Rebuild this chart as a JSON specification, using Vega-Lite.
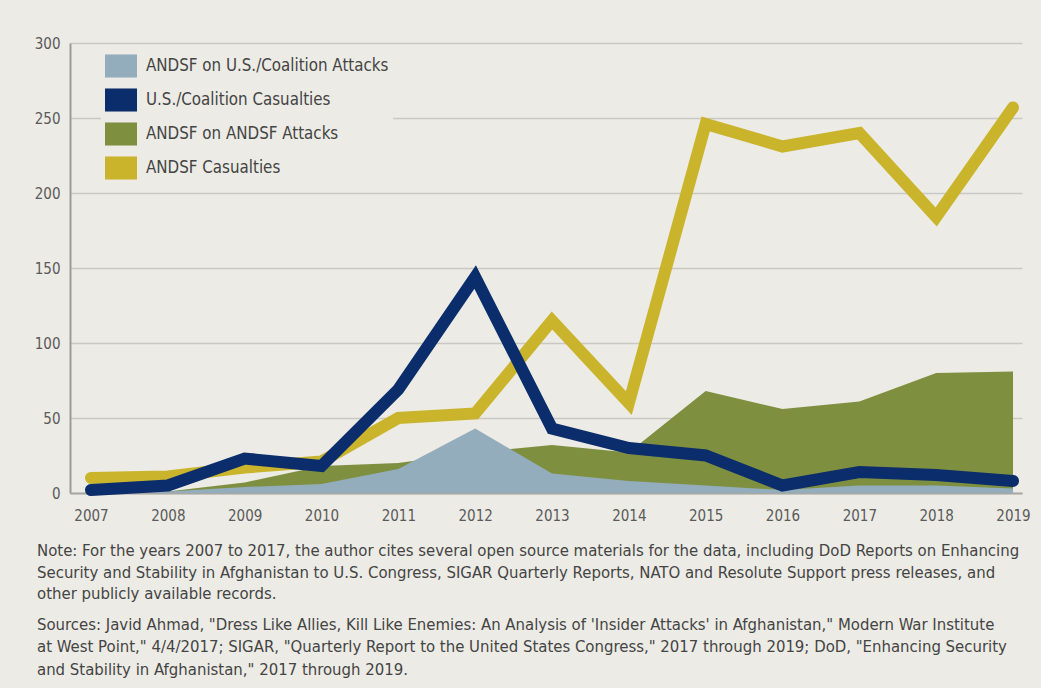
{
  "$schema": "https://vega.github.io/schema/vega-lite/v6.json",
  "autosize": "none",
  "width": 952,
  "height": 450,
  "padding": {"left": 70, "top": 43, "right": 19, "bottom": 195},
  "background": "#ecebe5",
  "config": {
    "view": {"stroke": null},
    "font": "DejaVu Sans Condensed, Open Sans, sans-serif",
    "axis": {"labelFont": "DejaVu Sans Condensed, sans-serif", "labelFontSize": 15, "labelColor": "#5a5a5a"}
  },
  "title": {
    "text": [
      "Note: For the years 2007 to 2017, the author cites several open source materials for the data, including DoD Reports on Enhancing",
      "Security and Stability in Afghanistan to U.S. Congress, SIGAR Quarterly Reports, NATO and Resolute Support press releases, and",
      "other publicly available records."
    ],
    "subtitle": [
      "Sources: Javid Ahmad, \"Dress Like Allies, Kill Like Enemies: An Analysis of 'Insider Attacks' in Afghanistan,\" Modern War Institute",
      "at West Point,\" 4/4/2017; SIGAR, \"Quarterly Report to the United States Congress,\" 2017 through 2019; DoD, \"Enhancing  Security",
      "and Stability in Afghanistan,\" 2017 through 2019."
    ],
    "orient": "bottom",
    "anchor": "start",
    "frame": "group",
    "dx": -33,
    "offset": 20,
    "font": "DejaVu Sans Condensed, sans-serif",
    "fontSize": 16.6,
    "fontWeight": "normal",
    "color": "#444444",
    "lineHeight": 21.5,
    "subtitleFont": "DejaVu Sans Condensed, sans-serif",
    "subtitleFontSize": 16.6,
    "subtitleColor": "#444444",
    "subtitleLineHeight": 22.5,
    "subtitlePadding": 14
  },
  "data": {
    "values": [
      {"year": 2007, "series": "ANDSF on U.S./Coalition Attacks", "value": 0},
      {"year": 2008, "series": "ANDSF on U.S./Coalition Attacks", "value": 1},
      {"year": 2009, "series": "ANDSF on U.S./Coalition Attacks", "value": 4},
      {"year": 2010, "series": "ANDSF on U.S./Coalition Attacks", "value": 6},
      {"year": 2011, "series": "ANDSF on U.S./Coalition Attacks", "value": 16},
      {"year": 2012, "series": "ANDSF on U.S./Coalition Attacks", "value": 43},
      {"year": 2013, "series": "ANDSF on U.S./Coalition Attacks", "value": 13},
      {"year": 2014, "series": "ANDSF on U.S./Coalition Attacks", "value": 8},
      {"year": 2015, "series": "ANDSF on U.S./Coalition Attacks", "value": 5},
      {"year": 2016, "series": "ANDSF on U.S./Coalition Attacks", "value": 2},
      {"year": 2017, "series": "ANDSF on U.S./Coalition Attacks", "value": 5},
      {"year": 2018, "series": "ANDSF on U.S./Coalition Attacks", "value": 5},
      {"year": 2019, "series": "ANDSF on U.S./Coalition Attacks", "value": 3},
      {"year": 2007, "series": "U.S./Coalition  Casualties", "value": 2},
      {"year": 2008, "series": "U.S./Coalition  Casualties", "value": 5},
      {"year": 2009, "series": "U.S./Coalition  Casualties", "value": 23},
      {"year": 2010, "series": "U.S./Coalition  Casualties", "value": 18},
      {"year": 2011, "series": "U.S./Coalition  Casualties", "value": 69},
      {"year": 2012, "series": "U.S./Coalition  Casualties", "value": 144},
      {"year": 2013, "series": "U.S./Coalition  Casualties", "value": 43},
      {"year": 2014, "series": "U.S./Coalition  Casualties", "value": 30},
      {"year": 2015, "series": "U.S./Coalition  Casualties", "value": 25},
      {"year": 2016, "series": "U.S./Coalition  Casualties", "value": 5},
      {"year": 2017, "series": "U.S./Coalition  Casualties", "value": 14},
      {"year": 2018, "series": "U.S./Coalition  Casualties", "value": 12},
      {"year": 2019, "series": "U.S./Coalition  Casualties", "value": 8},
      {"year": 2007, "series": "ANDSF on ANDSF Attacks", "value": 0},
      {"year": 2008, "series": "ANDSF on ANDSF Attacks", "value": 1},
      {"year": 2009, "series": "ANDSF on ANDSF Attacks", "value": 7},
      {"year": 2010, "series": "ANDSF on ANDSF Attacks", "value": 18},
      {"year": 2011, "series": "ANDSF on ANDSF Attacks", "value": 20},
      {"year": 2012, "series": "ANDSF on ANDSF Attacks", "value": 27},
      {"year": 2013, "series": "ANDSF on ANDSF Attacks", "value": 32},
      {"year": 2014, "series": "ANDSF on ANDSF Attacks", "value": 27},
      {"year": 2015, "series": "ANDSF on ANDSF Attacks", "value": 68},
      {"year": 2016, "series": "ANDSF on ANDSF Attacks", "value": 56},
      {"year": 2017, "series": "ANDSF on ANDSF Attacks", "value": 61},
      {"year": 2018, "series": "ANDSF on ANDSF Attacks", "value": 80},
      {"year": 2019, "series": "ANDSF on ANDSF Attacks", "value": 81},
      {"year": 2007, "series": "ANDSF Casualties", "value": 10},
      {"year": 2008, "series": "ANDSF Casualties", "value": 11},
      {"year": 2009, "series": "ANDSF Casualties", "value": 17},
      {"year": 2010, "series": "ANDSF Casualties", "value": 21},
      {"year": 2011, "series": "ANDSF Casualties", "value": 50},
      {"year": 2012, "series": "ANDSF Casualties", "value": 53},
      {"year": 2013, "series": "ANDSF Casualties", "value": 115},
      {"year": 2014, "series": "ANDSF Casualties", "value": 60},
      {"year": 2015, "series": "ANDSF Casualties", "value": 246},
      {"year": 2016, "series": "ANDSF Casualties", "value": 231},
      {"year": 2017, "series": "ANDSF Casualties", "value": 240},
      {"year": 2018, "series": "ANDSF Casualties", "value": 184},
      {"year": 2019, "series": "ANDSF Casualties", "value": 257}
    ]
  },
  "encoding": {
    "x": {
      "field": "year", "type": "quantitative",
      "scale": {"domain": [2006.727, 2019.117], "nice": false, "zero": false},
      "axis": {
        "title": null, "values": [2007,2008,2009,2010,2011,2012,2013,2014,2015,2016,2017,2018,2019],
        "format": "d", "grid": false, "ticks": false, "domain": true, "domainColor": "#a8a7a2", "domainWidth": 2,
        "labelPadding": 15
      }
    },
    "y": {
      "field": "value", "type": "quantitative",
      "scale": {"domain": [0, 300], "nice": false},
      "stack": null,
      "axis": {
        "title": null, "values": [0,50,100,150,200,250,300], "ticks": false,
        "domain": true, "domainColor": "#9c9b97", "domainWidth": 2,
        "grid": true, "gridColor": "#c9c8c2", "gridWidth": 1.5,
        "labelPadding": 10
      }
    },
    "color": {
      "field": "series", "type": "nominal",
      "scale": {
        "domain": ["ANDSF on U.S./Coalition Attacks", "U.S./Coalition  Casualties", "ANDSF on ANDSF Attacks", "ANDSF Casualties"],
        "range": ["#94adbd", "#0b2d6b", "#7f8f40", "#c9b42b"]
      },
      "legend": {
        "title": null,
        "orient": "none",
        "legendX": 31,
        "legendY": 3,
        "padding": 4,
        "fillColor": "#ecebe5",
        "symbolType": "M-1,-0.72H1V0.72H-1Z",
        "symbolSize": 1024,
        "symbolStrokeWidth": 0,
        "rowPadding": 6,
        "labelFontSize": 16.8,
        "labelColor": "#444444",
        "labelFont": "DejaVu Sans Condensed, sans-serif",
        "labelOffset": 9,
        "labelLimit": 400,
        "encode": {
          "symbols": {"update": {"fill": {"scale": "color", "field": "value"}, "fillOpacity": {"value": 1}, "strokeWidth": {"value": 0}}}
        }
      }
    }
  },
  "layer": [
    {
      "transform": [{"filter": "datum.series === 'ANDSF on ANDSF Attacks'"}],
      "mark": {"type": "area", "opacity": 1}
    },
    {
      "transform": [{"filter": "datum.series === 'ANDSF on U.S./Coalition Attacks'"}],
      "mark": {"type": "area", "opacity": 1}
    },
    {
      "transform": [{"filter": "datum.series === 'ANDSF Casualties'"}],
      "mark": {"type": "line", "strokeWidth": 12, "strokeCap": "round"}
    },
    {
      "transform": [{"filter": "datum.series === 'U.S./Coalition  Casualties'"}],
      "mark": {"type": "line", "strokeWidth": 12, "strokeCap": "round"}
    }
  ]
}
